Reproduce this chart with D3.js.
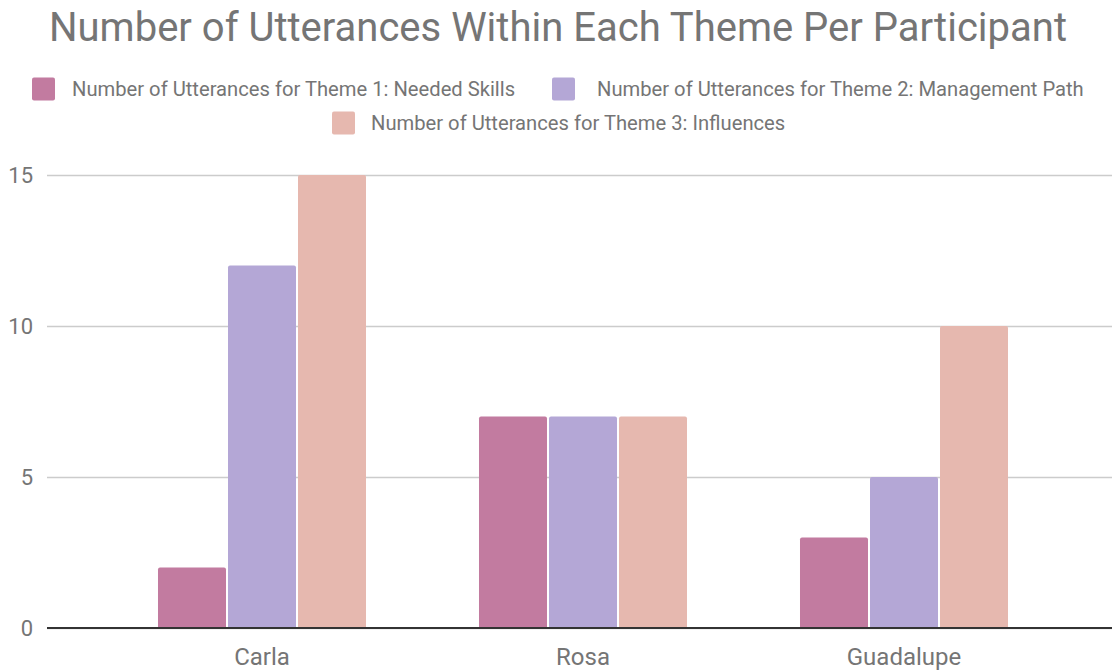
<!DOCTYPE html>
<html><head><meta charset="utf-8">
<script src="https://cdn.jsdelivr.net/npm/d3@7/dist/d3.min.js"></script>
<style>body{margin:0;background:#fff;}text{font-family:Roboto,"Noto Sans",sans-serif;}</style>
</head><body>
<svg id="chart" width="1112" height="670"></svg>
<script>
const title = "Number of Utterances Within Each Theme Per Participant";
const categories = ["Carla", "Rosa", "Guadalupe"];
const seriesNames = [
  "Number of Utterances for Theme 1: Needed Skills",
  "Number of Utterances for Theme 2: Management Path",
  "Number of Utterances for Theme 3: Influences"
];
const theme1 = [2, 7, 3];
const theme2 = [12, 7, 5];
const theme3 = [15, 7, 10];
const colors = ["#c27ba0", "#b4a7d6", "#e6b8af"];
const yTicks = [0, 5, 10, 15];

const series = [theme1, theme2, theme3];
const svg = d3.select("#chart");
const W = 1112, H = 670;
const plotLeft = 47, plotRight = 1112, plotTop = 175, plotBottom = 628;

svg.append("rect").attr("width", W).attr("height", H).attr("fill", "#fff");

svg.append("text").attr("x", 558).attr("y", 41).attr("text-anchor", "middle")
  .attr("font-size", 40).attr("fill", "#757575").text(title);

const y = d3.scaleLinear().domain([0, 15]).range([plotBottom, plotTop]);
const x0 = d3.scaleBand().domain(categories).range([101.5, 1064.5]).paddingInner(0.352).paddingOuter(0.176);
const x1 = d3.scaleBand().domain(d3.range(series.length)).range([0, x0.bandwidth()]).paddingInner(0.0286);

// gridlines
const yAxis = d3.axisLeft(y).tickValues(yTicks).tickSize(-(plotRight - plotLeft)).tickFormat(d3.format("d"));
const gy = svg.append("g").attr("transform", `translate(${plotLeft},0)`).call(yAxis);
gy.select(".domain").remove();
gy.selectAll(".tick line").attr("stroke", "#cccccc").attr("stroke-width", 1.5);
gy.selectAll(".tick text").attr("x", -14).attr("dy", "0.36em").attr("font-size", 22).attr("fill", "#757575")
  .attr("font-family", "Roboto, sans-serif");

// bars with rounded top corners only
function barPath(x, yTop, w, yBase, r) {
  r = Math.min(r, (yBase - yTop), w / 2);
  return `M${x},${yBase}V${yTop + r}Q${x},${yTop} ${x + r},${yTop}H${x + w - r}Q${x + w},${yTop} ${x + w},${yTop + r}V${yBase}Z`;
}
const groups = svg.append("g").selectAll("g").data(categories).join("g")
  .attr("transform", d => `translate(${x0(d)},0)`);
groups.selectAll("path").data((c, ci) => series.map((s, si) => ({si, v: s[ci]}))).join("path")
  .attr("d", d => barPath(x1(d.si), y(d.v), x1.bandwidth(), y(0), 2))
  .attr("fill", d => colors[d.si]);

// baseline
svg.append("line").attr("x1", plotLeft).attr("x2", plotRight).attr("y1", y(0)).attr("y2", y(0))
  .attr("stroke", "#333333").attr("stroke-width", 2);

// x axis labels
const xAxis = d3.axisBottom(x0).tickSize(0);
const gx = svg.append("g").attr("transform", `translate(0,${y(0)})`).call(xAxis);
gx.select(".domain").remove();
gx.selectAll(".tick text").attr("y", 37).attr("dy", 0).attr("font-size", 24).attr("fill", "#757575")
  .attr("font-family", "Roboto, sans-serif");

// legend
const legendItems = [
  {i: 0, sx: 32, tx: 72, y: 89},
  {i: 1, sx: 552, tx: 597, y: 89},
  {i: 2, sx: 332, tx: 371, y: 123}
];
const lg = svg.append("g");
legendItems.forEach(it => {
  lg.append("rect").attr("x", it.sx).attr("y", it.y - 11.5).attr("width", 23).attr("height", 23)
    .attr("rx", 2).attr("fill", colors[it.i]);
  lg.append("text").attr("x", it.tx).attr("y", it.y).attr("dy", "0.35em").attr("font-size", 20.2)
    .attr("fill", "#757575").text(seriesNames[it.i]);
});
</script>
</body></html>
